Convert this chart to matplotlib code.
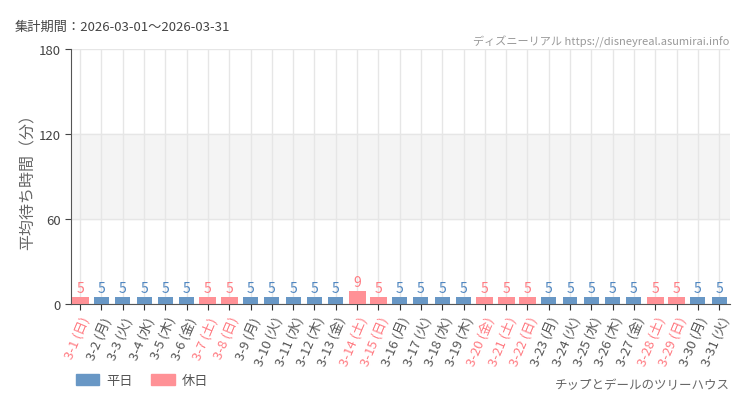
import matplotlib
matplotlib.use('Agg')
from matplotlib import pyplot as plt
from matplotlib.patches import Patch

plt.rcParams['font.family'] = ['Noto Sans CJK JP', 'DejaVu Sans']

# データ
days = ['3-%d' % d for d in range(1, 32)]
weekdays = ['日', '月', '火', '水', '木', '金', '土'] * 5
weekdays = weekdays[:31]
holidays = [1, 7, 8, 14, 15, 20, 21, 22, 28, 29]
waits = [5, 5, 5, 5, 5, 5, 5, 5, 5, 5, 5, 5, 5, 9, 5, 5, 5, 5, 5, 5,
         5, 5, 5, 5, 5, 5, 5, 5, 5, 5, 5]

blue = '#6897c5'
pink = '#ff9196'
blue_txt = '#4f86c0'
pink_txt = '#ff7b82'

fig = plt.figure(figsize=(7.5, 4.1), dpi=100)
ax = fig.add_axes([0.095, 0.256, 0.878, 0.622])

xs = list(range(len(days)))
for i, v in enumerate(waits):
	hol = (i + 1) in holidays
	ax.bar(i, v, 0.8 if hol else 0.7, color=pink if hol else blue, zorder=3)
	ax.text(i, v + 1.5, str(v), ha='center', va='bottom', fontsize=10,
			color=pink_txt if hol else blue_txt, zorder=4)

ax.axhspan(60, 120, color='#f4f4f4', zorder=0)
ax.set_ylim(0, 180)
ax.set_xlim(-0.42, 30.5)
ax.set_yticks([0, 60, 120, 180])
ax.tick_params(axis='y', labelsize=9.5, colors='#444444', length=4)
ax.set_xticks(xs)
labels = ['%s (%s)' % (d, w) for d, w in zip(days, weekdays)]
ax.set_xticklabels(labels, rotation=67, ha='right', rotation_mode='anchor', fontsize=9.5)
for i, t in enumerate(ax.get_xticklabels()):
	t.set_color(pink_txt if (i + 1) in holidays else '#555555')
ax.tick_params(axis='x', length=4, color='#333333')
ax.grid(True, color='#e6e6e6', linewidth=1, zorder=1)
for s in ['top', 'right']:
	ax.spines[s].set_visible(False)
ax.spines['left'].set_color('#555555')
ax.spines['bottom'].set_color('#555555')
ax.set_ylabel('平均待ち時間（分）', fontsize=11.5, color='#666666')
ax.yaxis.set_label_coords(-0.052, 0.5)

fig.text(0.02, 0.925, '集計期間：2026-03-01～2026-03-31', fontsize=9.5, color='#444444')
fig.text(0.973, 0.89, 'ディズニーリアル https://disneyreal.asumirai.info', fontsize=8,
		 color='#999999', ha='right')
fig.text(0.973, 0.05, 'チップとデールのツリーハウス', fontsize=9, color='#666666', ha='right')

handles = [Patch(color=blue, label='平日'), Patch(color=pink, label='休日')]
fig.legend(handles=handles, loc='lower left', bbox_to_anchor=(0.085, 0.025), ncol=2,
		   frameon=False, fontsize=9.5, handlelength=1.8, handleheight=0.9,
		   handletextpad=0.5, columnspacing=1.4, labelcolor='#555555')

fig.savefig('out.png', dpi=100)
